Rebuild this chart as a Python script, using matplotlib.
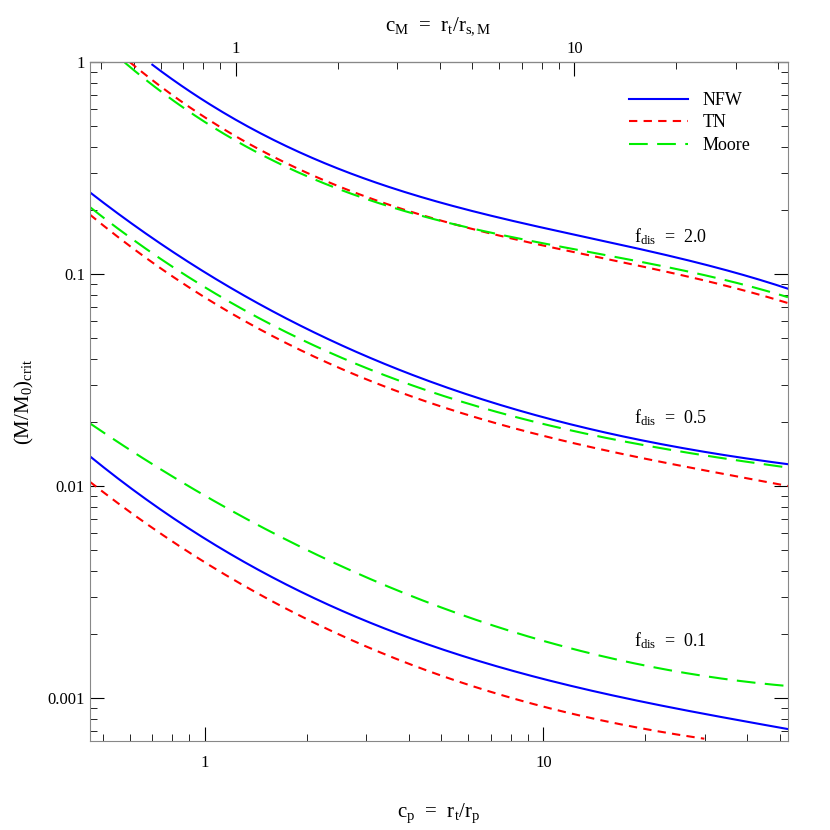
import numpy as np
import matplotlib
matplotlib.use("Agg")
import matplotlib.pyplot as plt

plt.rcParams["font.family"] = "Liberation Serif"
plt.rcParams["mathtext.fontset"] = "custom"
plt.rcParams["mathtext.rm"] = "Liberation Serif"
plt.rcParams["mathtext.it"] = "Liberation Serif"

# top group (f_dis = 2.0)
nfw2_c = [0.70, 1.14, 2.85, 9.67, 24.3, 52.8]
nfw2_m = [1.0, 0.55, 0.293, 0.174, 0.115, 0.087]
tn2_c = [0.60, 1.14, 2.85, 9.67, 24.3, 52.8]
tn2_m = [1.0, 0.49, 0.231, 0.145, 0.097, 0.074]
mo2_c = [0.58, 1.14, 2.85, 9.67, 24.3, 52.8]
mo2_m = [1.0, 0.46, 0.228, 0.148, 0.102, 0.079]
# middle group (f_dis = 0.5)
nfw5_c = [0.457, 1.14, 2.72, 6.73, 17.8, 52.8]
nfw5_m = [0.244, 0.090, 0.044, 0.0254, 0.0170, 0.0127]
tn5_c = [0.457, 1.14, 1.97, 4.6, 17.8, 52.8]
tn5_m = [0.194, 0.0655, 0.044, 0.0254, 0.0137, 0.0101]
mo5_c = [0.457, 1.14, 2.26, 5.76, 17.8, 52.8]
mo5_m = [0.209, 0.0755, 0.044, 0.0254, 0.0159, 0.0123]
# bottom group (f_dis = 0.1)
c_low = [0.457, 1.14, 2.85, 9.67, 24.3, 52.8]
nfw1_m = [0.0137, 0.0052, 0.00229, 0.00126, 0.00091, 0.00071]
mo1_m = [0.0194, 0.0086, 0.00362, 0.00188, 0.00140, 0.00112]
tn1_c = [0.457, 1.14, 2.85, 9.67, 29.9]
tn1_m = [0.0104, 0.00401, 0.00173, 0.00095, 0.00064]

labels = [("2.0", 18.5, 0.151), ("0.5", 18.5, 0.0211), ("0.1", 18.5, 0.00187)]
cm_ratio = 1.235

def smooth(c, m):
    lc, lm = np.log10(c), np.log10(m)
    p = np.polyfit(lc, lm, 3)
    xx = np.linspace(lc[0], lc[-1], 200)
    return 10**xx, 10**np.polyval(p, xx)

fig = plt.figure(figsize=(8.3, 8.3), dpi=100)
ax = fig.add_axes([0.108, 0.107, 0.841, 0.818])
blue, red, green = "#0000ff", "#ff0000", "#00ee00"
tn_ls, mo_ls = (0, (4, 3)), (0, (9, 4.5))
sets = [
    (nfw2_c, nfw2_m, blue, "-", "NFW"), (tn2_c, tn2_m, red, tn_ls, "TN"), (mo2_c, mo2_m, green, mo_ls, "Moore"),
    (nfw5_c, nfw5_m, blue, "-", None), (tn5_c, tn5_m, red, tn_ls, None), (mo5_c, mo5_m, green, mo_ls, None),
    (c_low, nfw1_m, blue, "-", None), (tn1_c, tn1_m, red, tn_ls, None), (c_low, mo1_m, green, mo_ls, None),
]
for c, m, col, ls, lab in sets:
    x, y = smooth(c, m)
    ax.plot(x, y, color=col, ls=ls, lw=1.5, label=lab)

ax.set_xscale("log"); ax.set_yscale("log")
ax.set_xlim(0.457, 52.7); ax.set_ylim(6.27e-4, 1.0)
ax.set_xticks([1, 10]); ax.set_xticklabels(["1", "10"])
ax.set_yticks([0.001, 0.01, 0.1, 1]); ax.set_yticklabels(["0.001", "0.01", "0.1", "1"])
ax.tick_params(which="both", direction="in", right=True, labelsize=12)
ax.tick_params(which="major", length=10)
ax.tick_params(which="minor", length=5)
ax.tick_params(axis="x", which="both", top=False, pad=10)
for s in ax.spines.values():
    s.set_color("#888888")

sec = ax.secondary_xaxis("top", functions=(lambda x: x / cm_ratio, lambda x: x * cm_ratio))
sec.set_xticks([1, 10]); sec.set_xticklabels(["1", "10"])
sec.tick_params(which="both", direction="in", labelsize=12)
sec.tick_params(which="major", length=10)
sec.tick_params(which="minor", length=5)
sec.set_xlabel(r"c$_{\rm M}$  =  r$_{\rm t}$/r$_{\rm s,M}$", fontsize=15, labelpad=8)

ax.set_xlabel(r"c$_{\rm p}$  =  r$_{\rm t}$/r$_{\rm p}$", fontsize=15, labelpad=22)
ax.set_ylabel(r"(M/M$_0$)$_{\rm crit}$", fontsize=15, labelpad=8)

for t, x, y in labels:
    ax.text(x, y, r"f$_{\rm dis}$  =  " + t, fontsize=13, va="center")

ax.legend(loc="upper right", bbox_to_anchor=(0.97, 0.98), frameon=False, fontsize=13,
          handlelength=3.3, labelspacing=0.3)

fig.savefig("out.png", dpi=100)
